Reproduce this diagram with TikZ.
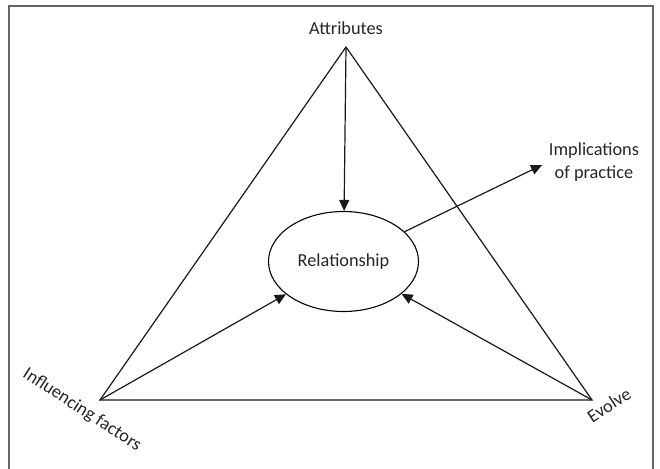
\documentclass[tikz,border=0pt]{standalone}
\usepackage{fontspec}
\setmainfont{Carlito}
\usetikzlibrary{shapes.geometric,arrows.meta}
\begin{document}
\begin{tikzpicture}[x=1pt,y=-1pt,
  lbl/.style={text=black!85,inner sep=0pt,font=\fontsize{18.3}{22.5}\selectfont},
  edge/.style={line width=1.2pt,black!90},
  arr/.style={edge,-{Triangle[length=11pt,width=10pt]}},
  frame/.style={line width=1.3pt,black!60}]
\useasboundingbox (0,0) rectangle (660,468);
\draw[frame] (9,470) -- (9,6) -- (653,6) -- (653,470);
% vertices
\coordinate (T) at (346,47);
\coordinate (L) at (100,400);
\coordinate (R) at (592,400);
\coordinate (imptip) at (542,165);
% triangle
\draw[edge,line join=miter] (T) -- (L) -- (R) -- cycle;
% ellipse
\node[ellipse,draw,line width=1.1pt,minimum width=150pt,minimum height=100pt,inner sep=0pt] (rel) at (343.5,261.5) {};
\node[lbl] (reltext) at (343.5,262) {Relationship};
% labels
\node[lbl,anchor=base] (attr) at (346,35) {Attributes};
\node[lbl,align=center] (imp) at (594,162) {Implications\\of practice};
\node[lbl,rotate=-33] (infl) at (82,410) {Influencing factors};
\node[lbl,rotate=33] (evol) at (609,405) {Evolve};
% arrows
\draw[arr] (T) -- (rel);
\draw[arr] (L) -- (rel);
\draw[arr] (R) -- (rel);
\draw[arr] (rel.26) -- (imptip);
\end{tikzpicture}
\end{document}
